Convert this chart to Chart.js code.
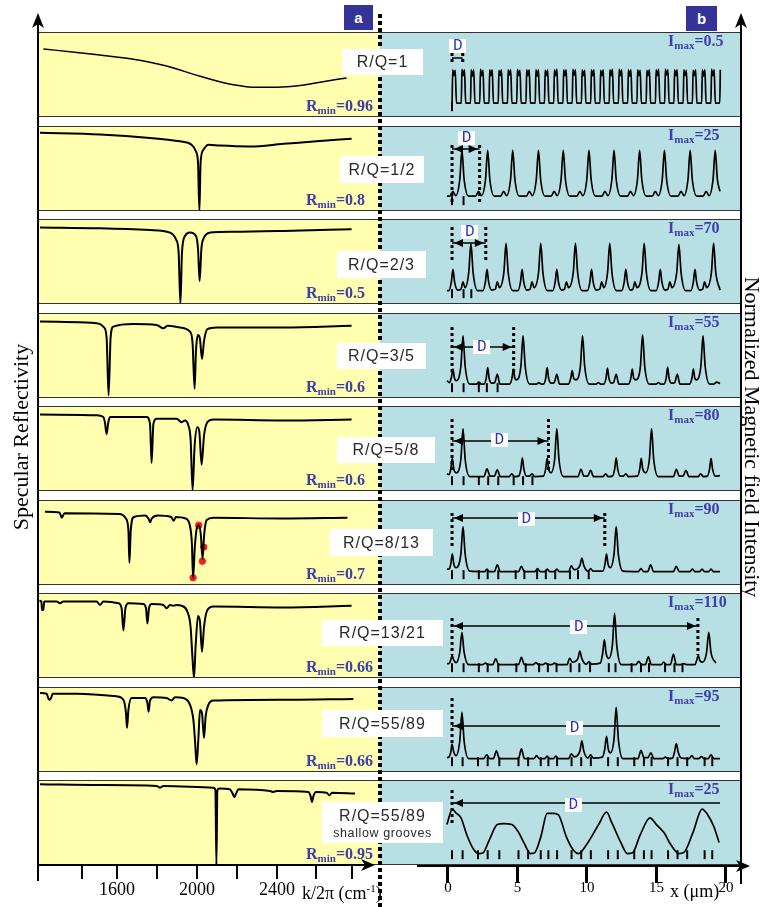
<!DOCTYPE html>
<html><head><meta charset="utf-8">
<script src="https://cdn.jsdelivr.net/npm/chart.js@4.4.1/dist/chart.umd.min.js"></script>
<style>
html,body{margin:0;padding:0;background:#fff;}
#wrap{position:relative;width:760px;height:907px;overflow:hidden;background:#fff;}
canvas{position:absolute;display:block;}
.lbl{position:absolute;white-space:nowrap;z-index:4;}
.rq{position:absolute;background:#fff;color:#2a2a2a;font-family:'Liberation Sans',Arial,sans-serif;font-size:16px;letter-spacing:1px;text-align:center;z-index:4;white-space:nowrap;}
.blue{color:#3d3dab;font-family:'Liberation Serif','Times New Roman',serif;font-weight:bold;font-size:16px;line-height:16px;}
.sub{font-size:11px;position:relative;top:3px;line-height:0;}
.dlab{position:absolute;background:#fff;color:#3535b0;font-family:'Liberation Mono',monospace;font-size:16px;line-height:14px;width:17px;height:14px;text-align:center;z-index:4;}
.tag{position:absolute;background:#333399;color:#fff;font:bold 15px/25px 'Liberation Sans',Arial,sans-serif;text-align:center;z-index:4;}
</style></head><body><div id="wrap"></div>
<script>
// ================= DATA =================
const rqLabels = ['R/Q=1','R/Q=1/2','R/Q=2/3','R/Q=3/5','R/Q=5/8','R/Q=8/13','R/Q=13/21','R/Q=55/89','R/Q=55/89'];
const rqNote = 'shallow grooves';
const rminValues = ['0.96','0.8','0.5','0.6','0.6','0.7','0.66','0.66','0.95'];
const imaxValues = ['0.5','25','70','55','80','90','110','95','25'];
const kTickValues = [1425,1600,1800,2000,2200,2400,2595,2775];
const kTickLabels = ['','1600','','2000','','2400','',''];
const xTickValues = [0,5,10,15,20];
const xTickLabels = ['0','5','10','15','20'];
const dLengths = [0.8,2.06,2.52,4.6,7.2,11.4,18.35,null,null];

// relative specular reflectivity (0 = Rmin, 1 = top of panel) vs k/2pi (cm-1)
const refl1 = [[1232,0.80],[1400,0.76],[1515,0.73],[1682,0.68],[1848,0.60],[2015,0.48],[2182,0.38],[2300,0.35],[2400,0.35],[2515,0.37],[2615,0.41],[2748,0.46]];
const refl2 = [[1215,0.92],[1515,0.9],[1765,0.86],[1915,0.82],[1973,0.78],[1995,0.7],[2005,0.57],[2012,0.0],[2018,0.57],[2032,0.72],[2057,0.78],[2115,0.77],[2265,0.76],[2432,0.79],[2598,0.82],[2773,0.85]];
const refl3 = [[1215,0.9],[1515,0.89],[1765,0.87],[1865,0.84],[1895,0.76],[1908,0.61],[1917,0.0],[1925,0.61],[1940,0.8],[1965,0.84],[1995,0.8],[2005,0.65],[2013,0.27],[2022,0.65],[2035,0.78],[2065,0.84],[2182,0.85],[2432,0.86],[2773,0.88]];
const refl4 = [[1215,0.9],[1498,0.88],[1535,0.83],[1548,0.71],[1558,0.03],[1568,0.71],[1582,0.84],[1682,0.87],[1798,0.86],[1832,0.82],[1853,0.85],[1915,0.83],[1965,0.78],[1978,0.64],[1988,0.11],[1995,0.56],[2005,0.74],[2015,0.69],[2025,0.46],[2035,0.67],[2052,0.81],[2098,0.83],[2432,0.83],[2773,0.85]];
const refl5 = [[1215,0.9],[1498,0.89],[1532,0.87],[1540,0.8],[1548,0.67],[1556,0.8],[1565,0.87],[1748,0.87],[1765,0.79],[1773,0.33],[1782,0.79],[1798,0.85],[1898,0.85],[1923,0.81],[1940,0.83],[1957,0.77],[1968,0.61],[1978,0.01],[1988,0.53],[2002,0.75],[2012,0.69],[2023,0.31],[2035,0.65],[2052,0.81],[2082,0.84],[2432,0.83],[2773,0.84]];
const refl6 = [[1215,0.91],[1290,0.9],[1302,0.83],[1315,0.89],[1598,0.88],[1632,0.82],[1645,0.66],[1650,0.23],[1657,0.66],[1673,0.84],[1732,0.86],[1748,0.82],[1757,0.77],[1765,0.82],[1798,0.86],[1865,0.84],[1878,0.79],[1890,0.84],[1940,0.82],[1962,0.72],[1972,0.48],[1978,0.03],[1987,0.44],[1998,0.7],[2008,0.73],[2018,0.6],[2027,0.28],[2035,0.6],[2048,0.8],[2082,0.83],[2432,0.82],[2773,0.83]];
const redMarkers6 = [[1978,0.03],[2007,0.73],[2033,0.44],[2026,0.25]];
const refl7 = [[1212,0.91],[1222,0.9],[1225,0.8],[1232,0.8],[1236,0.9],[1298,0.9],[1315,0.88],[1332,0.9],[1498,0.9],[1515,0.86],[1532,0.9],[1607,0.88],[1623,0.82],[1632,0.56],[1642,0.82],[1657,0.88],[1732,0.87],[1745,0.82],[1752,0.64],[1760,0.82],[1773,0.87],[1832,0.86],[1848,0.82],[1865,0.86],[1882,0.85],[1898,0.86],[1923,0.85],[1952,0.78],[1968,0.6],[1977,0.25],[1985,0.0],[1993,0.37],[2005,0.73],[2015,0.66],[2025,0.31],[2035,0.6],[2052,0.8],[2082,0.84],[2432,0.83],[2773,0.85]];
const refl8 = [[1215,0.93],[1248,0.92],[1258,0.86],[1265,0.85],[1272,0.88],[1278,0.92],[1398,0.92],[1598,0.89],[1632,0.85],[1645,0.69],[1650,0.52],[1657,0.73],[1673,0.87],[1740,0.87],[1752,0.81],[1758,0.71],[1765,0.84],[1782,0.88],[1848,0.87],[1873,0.84],[1890,0.88],[1932,0.87],[1965,0.79],[1982,0.61],[1990,0.37],[1998,0.09],[2007,0.4],[2015,0.73],[2025,0.69],[2035,0.4],[2043,0.65],[2057,0.79],[2082,0.84],[2432,0.85],[2782,0.86]];
const refl9 = [[1215,0.95],[1515,0.94],[1798,0.93],[1815,0.91],[1832,0.93],[2082,0.91],[2092,0.88],[2097,0.0],[2102,0.88],[2112,0.9],[2165,0.89],[2178,0.84],[2187,0.8],[2195,0.84],[2207,0.89],[2365,0.87],[2382,0.86],[2398,0.87],[2557,0.86],[2568,0.81],[2575,0.74],[2582,0.81],[2595,0.86],[2648,0.85],[2662,0.82],[2675,0.85],[2790,0.84]];

// normalized magnetic field intensity (I / Imax) vs x (um)
const field1 = [[0,-0.12],[0.05,0.72],[0.14,0.6],[0.24,0.71],[0.33,0.03],
[0.69,0.03],[0.74,0.73],[0.83,0.6],[0.93,0.72],[1.02,0.03],
[1.38,0.03],[1.43,0.72],[1.52,0.59],[1.62,0.72],[1.71,0.03],
[2.07,0.03],[2.12,0.73],[2.21,0.6],[2.31,0.71],[2.40,0.03],
[2.76,0.03],[2.81,0.72],[2.90,0.6],[3.00,0.72],[3.09,0.03],
[3.45,0.03],[3.50,0.71],[3.59,0.6],[3.69,0.72],[3.78,0.03],
[4.14,0.03],[4.19,0.72],[4.28,0.61],[4.38,0.72],[4.47,0.03],
[4.83,0.03],[4.88,0.73],[4.97,0.6],[5.07,0.71],[5.16,0.03],
[5.52,0.03],[5.57,0.72],[5.66,0.6],[5.76,0.72],[5.85,0.03],
[6.21,0.03],[6.26,0.72],[6.35,0.59],[6.45,0.72],[6.54,0.03],
[6.90,0.03],[6.95,0.71],[7.04,0.6],[7.14,0.72],[7.23,0.03],
[7.59,0.03],[7.64,0.72],[7.73,0.6],[7.83,0.73],[7.92,0.03],
[8.28,0.03],[8.33,0.72],[8.42,0.6],[8.52,0.72],[8.61,0.03],
[8.97,0.03],[9.02,0.73],[9.11,0.61],[9.21,0.72],[9.30,0.03],
[9.66,0.03],[9.71,0.72],[9.80,0.6],[9.90,0.71],[9.99,0.03],
[10.35,0.03],[10.40,0.72],[10.49,0.6],[10.59,0.72],[10.68,0.03],
[11.04,0.03],[11.09,0.71],[11.18,0.6],[11.28,0.72],[11.37,0.03],
[11.73,0.03],[11.78,0.72],[11.87,0.6],[11.97,0.73],[12.06,0.03],
[12.42,0.03],[12.47,0.73],[12.56,0.6],[12.66,0.72],[12.75,0.03],
[13.11,0.03],[13.16,0.72],[13.25,0.59],[13.35,0.72],[13.44,0.03],
[13.80,0.03],[13.85,0.72],[13.94,0.6],[14.04,0.71],[14.13,0.03],
[14.49,0.03],[14.54,0.71],[14.63,0.6],[14.73,0.72],[14.82,0.03],
[15.18,0.03],[15.23,0.72],[15.32,0.6],[15.42,0.73],[15.51,0.03],
[15.87,0.03],[15.92,0.73],[16.01,0.61],[16.11,0.72],[16.20,0.03],
[16.56,0.03],[16.61,0.72],[16.70,0.6],[16.80,0.72],[16.89,0.03],
[17.25,0.03],[17.30,0.72],[17.39,0.6],[17.49,0.71],[17.58,0.03],
[17.94,0.03],[17.99,0.71],[18.08,0.6],[18.18,0.72],[18.27,0.03],
[18.63,0.03],[18.68,0.72],[18.77,0.59],[18.87,0.72],[18.96,0.03],
[19.32,0.03],[19.37,0.73],[19.46,0.6],[19.56,0.72],[19.65,0.03],
[19.98,0.03],[20.02,0.72]];
const field2 = [[-0.38,0.05],[-0.16,0.05],[0.06,0.15],[0.28,0.06],[0.58,0.4],[0.74,1.0],[0.90,0.4],[1.24,0.05],
[1.76,0.05],[1.98,0.15],[2.20,0.06],[2.50,0.4],[2.66,1.0],[2.82,0.4],[3.16,0.05],
[3.63,0.05],[3.85,0.15],[4.07,0.06],[4.37,0.4],[4.53,1.0],[4.69,0.4],[5.03,0.05],
[5.55,0.05],[5.77,0.15],[5.99,0.06],[6.29,0.4],[6.45,1.0],[6.61,0.4],[6.95,0.05],
[7.40,0.05],[7.62,0.15],[7.84,0.06],[8.14,0.4],[8.30,1.0],[8.46,0.4],[8.80,0.05],
[9.32,0.05],[9.54,0.15],[9.76,0.06],[10.06,0.4],[10.22,1.0],[10.38,0.4],[10.72,0.05],
[11.19,0.05],[11.41,0.15],[11.63,0.06],[11.93,0.4],[12.09,1.0],[12.25,0.4],[12.59,0.05],
[13.10,0.05],[13.32,0.15],[13.54,0.06],[13.84,0.4],[14.00,1.0],[14.16,0.4],[14.50,0.05],
[14.95,0.05],[15.17,0.15],[15.39,0.06],[15.69,0.4],[15.85,1.0],[16.01,0.4],[16.35,0.05],
[16.87,0.05],[17.09,0.15],[17.31,0.06],[17.61,0.4],[17.77,1.0],[17.93,0.4],[18.27,0.05],
[18.74,0.05],[18.96,0.15],[19.18,0.06],[19.48,0.4],[19.64,1.0],[19.80,0.4],[20.0,0.15]];
const field3 = [[-0.38,0.02],[-0.23,0.02],[-0.05,0.2],[0.07,0.46],[0.19,0.2],[0.42,0.03],[0.67,0.05],[0.82,0.2],[0.97,0.08],[1.25,0.4],[1.41,1.0],[1.57,0.4],[1.91,0.02],
[2.31,0.02],[2.49,0.2],[2.61,0.46],[2.73,0.2],[2.96,0.03],[3.23,0.05],[3.38,0.2],[3.53,0.08],[3.87,0.4],[4.03,1.0],[4.19,0.4],[4.53,0.02],
[4.93,0.02],[5.11,0.2],[5.23,0.46],[5.35,0.2],[5.58,0.03],[5.82,0.05],[5.97,0.2],[6.12,0.08],[6.46,0.4],[6.62,1.0],[6.78,0.4],[7.12,0.02],
[7.52,0.02],[7.70,0.2],[7.82,0.46],[7.94,0.2],[8.17,0.03],[8.39,0.05],[8.54,0.2],[8.69,0.08],[9.05,0.4],[9.21,1.0],[9.37,0.4],[9.71,0.02],
[10.11,0.02],[10.29,0.2],[10.41,0.46],[10.53,0.2],[10.76,0.03],[11.02,0.05],[11.17,0.2],[11.32,0.08],[11.61,0.4],[11.77,1.0],[11.93,0.4],[12.27,0.02],
[12.67,0.02],[12.85,0.2],[12.97,0.46],[13.09,0.2],[13.32,0.03],[13.50,0.05],[13.65,0.2],[13.80,0.08],[14.18,0.4],[14.34,1.0],[14.50,0.4],[14.84,0.02],
[15.24,0.02],[15.42,0.2],[15.54,0.46],[15.66,0.2],[15.89,0.03],[16.11,0.05],[16.26,0.2],[16.41,0.08],[16.77,0.4],[16.93,0.98],[17.09,0.4],[17.43,0.02],
[17.83,0.02],[18.01,0.2],[18.13,0.46],[18.25,0.2],[18.48,0.03],[18.70,0.05],[18.85,0.2],[19.00,0.08],[19.36,0.4],[19.52,1.0],[19.68,0.4],[20.0,0.03]];
const field4 = [[-0.38,0.1],[-0.2,0.06],[-0.06,0.15],[0.07,0.34],[0.18,0.15],[0.32,0.1],[0.66,0.4],[0.82,1.03],[0.98,0.4],[1.32,0.03],[1.82,0.03],[2.0,0.07],[2.18,0.03],[2.38,0.03],[2.55,0.15],[2.66,0.37],[2.77,0.15],[2.96,0.05],[3.18,0.06],[3.38,0.23],[3.58,0.03],
[4.30,0.03],[4.47,0.15],[4.58,0.34],[4.69,0.15],[4.82,0.12],[5.14,0.4],[5.30,1.03],[5.46,0.4],[5.80,0.03],[6.30,0.03],[6.48,0.06],[6.66,0.03],[6.82,0.03],[6.99,0.15],[7.10,0.37],[7.21,0.15],[7.40,0.05],[7.62,0.06],[7.82,0.23],[8.02,0.03],
[8.69,0.03],[8.86,0.15],[8.97,0.31],[9.08,0.15],[9.26,0.12],[9.58,0.4],[9.74,1.03],[9.90,0.4],[10.24,0.03],[10.74,0.03],[10.92,0.06],[11.10,0.03],[11.32,0.03],[11.49,0.15],[11.60,0.36],[11.71,0.15],[11.90,0.05],[12.05,0.06],[12.25,0.23],[12.45,0.03],
[13.17,0.03],[13.34,0.15],[13.45,0.34],[13.56,0.15],[13.74,0.12],[14.06,0.4],[14.22,1.05],[14.38,0.4],[14.72,0.03],[15.22,0.03],[15.40,0.06],[15.58,0.03],[15.81,0.03],[15.98,0.15],[16.09,0.38],[16.20,0.15],[16.39,0.05],[16.61,0.06],[16.81,0.23],[17.01,0.03],
[17.73,0.03],[17.90,0.15],[18.01,0.34],[18.12,0.15],[18.25,0.12],[18.57,0.4],[18.73,1.03],[18.89,0.4],[19.23,0.03],[19.52,0.03],[19.75,0.07],[20.0,0.04]];
const field5 = [[-0.38,0.1],[-0.22,0.08],[-0.09,0.2],[0.02,0.42],[0.13,0.2],[0.3,0.12],[0.66,0.4],[0.82,1.03],[0.98,0.4],[1.32,0.04],[2.38,0.04],[2.61,0.2],[2.84,0.05],[3.16,0.05],[3.38,0.18],[3.6,0.04],[4.26,0.04],[4.46,0.1],[4.66,0.04],[4.97,0.05],[5.14,0.2],[5.25,0.43],[5.36,0.2],[5.55,0.05],[5.77,0.05],[5.97,0.1],[6.17,0.04],[6.82,0.05],[6.99,0.2],[7.10,0.42],[7.21,0.2],[7.38,0.12],[7.66,0.4],[7.82,1.03],[7.98,0.4],[8.32,0.04],
[9.40,0.04],[9.62,0.19],[9.84,0.05],[10.12,0.05],[10.34,0.17],[10.56,0.04],[11.26,0.04],[11.46,0.1],[11.66,0.04],[11.97,0.05],[12.14,0.2],[12.25,0.43],[12.36,0.2],[12.55,0.05],[12.77,0.05],[12.97,0.1],[13.17,0.04],[13.84,0.05],[14.01,0.2],[14.12,0.42],[14.23,0.2],[14.45,0.12],[14.73,0.4],[14.89,1.03],[15.05,0.4],[15.39,0.04],
[16.52,0.04],[16.74,0.19],[16.96,0.05],[17.24,0.05],[17.46,0.17],[17.68,0.04],[18.36,0.04],[18.56,0.1],[18.76,0.04],[19.05,0.05],[19.22,0.2],[19.33,0.42],[19.44,0.2],[19.65,0.05],[20.0,0.06]];
const field6 = [[-0.38,0.07],[-0.22,0.07],[-0.09,0.18],[0.02,0.39],[0.13,0.18],[0.3,0.1],[0.66,0.38],[0.82,0.95],[0.98,0.38],[1.32,0.03],[2.41,0.02],[2.61,0.07],[2.81,0.02],[3.16,0.02],[3.38,0.16],[3.6,0.02],[4.96,0.02],[5.18,0.13],[5.4,0.02],[6.18,0.02],[6.38,0.08],[6.58,0.02],[6.9,0.02],[7.1,0.07],[7.3,0.02],[7.62,0.02],[7.82,0.07],[8.02,0.02],[8.7,0.02],[8.9,0.14],[9.1,0.06],[9.55,0.15],[9.69,0.3],[9.83,0.15],[10.14,0.03],[10.34,0.08],[10.54,0.03],[11.25,0.03],[11.42,0.18],[11.53,0.39],[11.64,0.18],[11.81,0.1],[12.09,0.38],[12.25,0.95],[12.41,0.38],[12.75,0.03],
[13.9,0.02],[14.1,0.08],[14.3,0.02],[14.6,0.02],[14.82,0.16],[15.04,0.02],[16.52,0.02],[16.74,0.13],[16.96,0.02],[17.74,0.02],[17.94,0.07],[18.14,0.02],[18.46,0.02],[18.66,0.07],[18.86,0.02],[19.13,0.02],[19.33,0.07],[19.53,0.02],[20.0,0.02]];
const field7 = [[-0.38,0.04],[-0.2,0.05],[-0.09,0.12],[0.0,0.21],[0.12,0.12],[0.3,0.06],[0.58,0.28],[0.74,0.69],[0.9,0.28],[1.24,0.02],[2.29,0.02],[2.49,0.05],[2.69,0.02],[3.04,0.02],[3.26,0.14],[3.48,0.02],[4.96,0.02],[5.18,0.17],[5.4,0.02],[6.06,0.02],[6.26,0.06],[6.46,0.02],[6.78,0.02],[6.98,0.05],[7.18,0.02],[7.45,0.02],[7.65,0.05],[7.85,0.02],[8.58,0.02],[8.78,0.15],[8.98,0.07],[9.4,0.15],[9.54,0.3],[9.68,0.15],[10.02,0.03],[10.22,0.08],[10.42,0.03],[11.06,0.05],[11.24,0.25],[11.37,0.54],[11.5,0.25],[11.7,0.15],[11.97,0.43],[12.13,1.08],[12.29,0.43],[12.63,0.02],
[13.73,0.02],[13.93,0.09],[14.13,0.02],[14.43,0.02],[14.65,0.18],[14.87,0.02],[15.6,0.02],[15.8,0.07],[16.0,0.02],[16.3,0.02],[16.52,0.23],[16.74,0.02],[17.09,0.02],[17.29,0.04],[17.49,0.02],[18.13,0.02],[18.25,0.1],[18.37,0.21],[18.5,0.1],[18.7,0.07],[19.0,0.28],[19.16,0.69],[19.32,0.28],[19.69,0.05]];
const field8 = [[-0.38,0.04],[-0.2,0.06],[-0.09,0.16],[0.0,0.32],[0.12,0.16],[0.3,0.08],[0.58,0.39],[0.74,0.98],[0.9,0.39],[1.24,0.02],[2.37,0.02],[2.59,0.1],[2.81,0.02],[3.09,0.02],[3.31,0.18],[3.53,0.02],[4.96,0.02],[5.18,0.22],[5.4,0.02],[6.11,0.02],[6.31,0.08],[6.51,0.02],[6.9,0.02],[7.1,0.07],[7.3,0.02],[7.55,0.02],[7.75,0.07],[7.95,0.02],[8.7,0.02],[8.9,0.12],[9.1,0.06],[9.55,0.18],[9.69,0.39],[9.83,0.18],[10.14,0.03],[10.34,0.1],[10.54,0.03],[11.22,0.05],[11.4,0.22],[11.53,0.48],[11.66,0.22],[11.83,0.14],[12.09,0.43],[12.25,1.08],[12.41,0.43],[12.75,0.02],
[13.88,0.02],[14.1,0.19],[14.32,0.04],[14.62,0.04],[14.84,0.14],[15.06,0.02],[15.72,0.02],[15.92,0.05],[16.12,0.02],[16.45,0.03],[16.6,0.15],[16.74,0.33],[16.88,0.15],[17.1,0.03],[17.69,0.02],[17.89,0.08],[18.09,0.02],[18.41,0.02],[18.61,0.06],[18.81,0.02],[19.13,0.02],[19.33,0.1],[19.53,0.02],[20.0,0.02]];
const field9 = [[-0.38,0.58],[0.02,0.9],[0.3,0.82],[0.67,0.72],[1.1,0.37],[1.58,0.08],[2.01,-0.02],[2.3,-0.01],[2.78,0.26],[3.38,0.58],[3.86,0.6],[4.46,0.58],[4.94,0.43],[5.37,0.2],[5.85,-0.02],[6.14,-0.01],[6.62,0.32],[7.1,0.81],[7.58,0.81],[7.94,0.78],[8.54,0.32],[9.06,0.05],[9.45,-0.02],[9.98,0.14],[10.94,0.58],[11.53,0.84],[11.89,0.64],[12.61,0.2],[13.09,-0.02],[13.45,-0.01],[14.05,0.37],[14.77,0.72],[15.25,0.58],[15.85,0.4],[16.33,0.16],[16.93,-0.02],[17.29,0.0],[18.0,0.43],[18.66,0.9],[19.09,0.78],[19.52,0.55],[19.93,0.21]];

// groove positions (um)
const grooves1 = [0];
const grooves2 = [0,0.86];
const grooves3 = [0,0.86,1.44];
const grooves4 = [0,0.86,2.0,2.6,3.4];
const grooves5 = [0,0.86,2.0,2.7,3.45,4.6,5.3,6.0];
const grooves6 = [0,0.86,2.0,2.66,3.45,4.75,5.4,6.35,7.0,7.7,8.8,9.4,10.2];
const grooves7 = [0,0.86,2.0,2.66,3.45,4.8,5.5,6.5,7.15,7.8,8.85,9.5,10.3,11.7,12.2,13.4,14.1,14.7,15.9,16.6,17.2];
const grooves8 = [0,0.79,1.94,2.66,3.53,4.96,5.68,6.62,7.19,7.84,8.92,9.64,10.36,11.65,12.37,13.6,14.32,14.89,16.12,16.83,17.55,18.85,19.42];
const grooves9 = [0,0.79,1.94,2.66,3.53,4.96,5.68,6.62,7.19,7.84,8.92,9.64,10.36,11.65,12.37,13.6,14.32,14.89,16.12,16.83,17.55,18.85,19.42];

const reflSeries = [refl1,refl2,refl3,refl4,refl5,refl6,refl7,refl8,refl9];
const fieldSeries = [field1,field2,field3,field4,field5,field6,field7,field8,field9];
const grooveSeries = [grooves1,grooves2,grooves3,grooves4,grooves5,grooves6,grooves7,grooves8,grooves9];

// ================= LAYOUT =================
Chart.defaults.font.family = "'Liberation Serif','Times New Roman',serif";
Chart.defaults.color = '#000';
const wrap = document.getElementById('wrap');
const ROW_TOPS = [32,126,219,313,406,500,593,687,780];
const ROW_H = 85;
const LEFT = {x:38, w:342, min:1205, max:2915, bg:'#FFFFAF'};
const RIGHT = {x:380, w:361, min:-4.89, max:21.08, bg:'#B8E0E4'};
const BASE_PX = 7, UNIT_PX = 57;
const fieldMin = -BASE_PX/UNIT_PX, fieldMax = (ROW_H-BASE_PX)/UNIT_PX;
const grooveY = fieldMin + 4.5/UNIT_PX;
const rqBoxes = [[342,49,81,26],[340,156,84,27],[337,251,89,27],[337,343,89,26],[337,437,98,26],[330,529,103,27],[322,620,121,26],[322,710,121,27],[322,802,121,41]];
const dMarkLayout = [
 {dTop:21,dBot:33,ay:26,heads:false,box:7,center:0.43},
 {dTop:19,dBot:77,ay:23,heads:true,box:5,center:1.08},
 {dTop:8,dBot:44,ay:24,heads:true,box:6,center:1.33},
 {dTop:14,dBot:59,ay:34,heads:true,box:27,center:2.23},
 {dTop:13,dBot:64,ay:35,heads:true,box:27,center:3.53},
 {dTop:13,dBot:48,ay:18,heads:true,box:12,center:5.54},
 {dTop:25,dBot:62,ay:33,heads:true,box:27,center:9.46},
 {dTop:11,dBot:56,ay:39,heads:true,box:34,center:9.14},
 {dTop:10,dBot:45,ay:23,heads:true,box:18,center:9.06}
];

function addCanvas(left, top, w, h, bg) {
  const c = document.createElement('canvas');
  c.width = w; c.height = h;
  c.style.left = left+'px'; c.style.top = top+'px';
  c.style.width = w+'px'; c.style.height = h+'px';
  if (bg) c.style.background = bg;
  c.style.zIndex = 1;
  wrap.appendChild(c);
  return c;
}
function addDiv(cls, css, html) {
  const d = document.createElement('div');
  if (cls) d.className = cls;
  d.style.cssText = css;
  d.innerHTML = html;
  wrap.appendChild(d);
  return d;
}
const baseOpts = () => ({
  responsive:false, animation:false, devicePixelRatio:1, events:[],
  layout:{padding:0},
  plugins:{legend:{display:false}, tooltip:{enabled:false}}
});

function head(ctx, x, y, dir) {
  ctx.beginPath();
  ctx.moveTo(x, y);
  ctx.lineTo(x - dir*9, y-4);
  ctx.lineTo(x - dir*9, y+4);
  ctx.closePath(); ctx.fill();
}
const dPlugin = {
  id:'dmark',
  afterDatasetsDraw(chart, args, opts) {
    const m = opts.mark; if (!m) return;
    const ctx = chart.ctx, xs = chart.scales.x;
    const xa = xs.getPixelForValue(0);
    const xb = m.len != null ? xs.getPixelForValue(m.len) : null;
    const xEnd = xb != null ? xb : xs.getPixelForValue(xTickValues[xTickValues.length-1]);
    ctx.save();
    ctx.strokeStyle = '#000'; ctx.fillStyle = '#000';
    ctx.setLineDash([3,3]); ctx.lineWidth = 3;
    [xa, xb].forEach(x => {
      if (x == null) return;
      ctx.beginPath(); ctx.moveTo(x, m.dTop); ctx.lineTo(x, m.dBot); ctx.stroke();
    });
    ctx.setLineDash([]); ctx.lineWidth = 1.5;
    ctx.beginPath(); ctx.moveTo(xa, m.ay); ctx.lineTo(xEnd, m.ay); ctx.stroke();
    if (m.heads) {
      head(ctx, xa+2, m.ay, -1);
      if (xb != null) head(ctx, xb-2, m.ay, 1);
    }
    ctx.restore();
  }
};

for (let i = 0; i < 9; i++) {
  const top = ROW_TOPS[i];
  // left: reflectivity
  const cl = addCanvas(LEFT.x, top, LEFT.w, ROW_H, LEFT.bg);
  const lds = [{data: reflSeries[i], showLine:true, borderColor:'#000', borderWidth: i === 0 ? 1.5 : 2, pointRadius:0,
                cubicInterpolationMode:'monotone', clip:false}];
  if (i === 5) lds.push({data: redMarkers6, showLine:false, pointRadius:3.2,
                pointBackgroundColor:'#ff1a1a', pointBorderColor:'#ff1a1a', clip:false});
  const lo = baseOpts();
  lo.scales = {x:{type:'linear', min:LEFT.min, max:LEFT.max, display:false},
               y:{type:'linear', min:0, max:1, display:false}};
  new Chart(cl, {type:'scatter', data:{datasets:lds}, options:lo});

  // right: field intensity
  const cr = addCanvas(RIGHT.x, top, RIGHT.w, ROW_H, RIGHT.bg);
  const m = Object.assign({len: dLengths[i]}, dMarkLayout[i]);
  const ro = baseOpts();
  ro.plugins.dmark = {mark: m};
  ro.scales = {x:{type:'linear', min:RIGHT.min, max:RIGHT.max, display:false},
               y:{type:'linear', min:fieldMin, max:fieldMax, display:false}};
  const rch = new Chart(cr, {type:'scatter', plugins:[dPlugin], data:{datasets:[
    {data: fieldSeries[i], showLine:true, borderColor:'#000', borderWidth:1.7, pointRadius:0,
     cubicInterpolationMode:'monotone', clip:false},
    {data: grooveSeries[i].map(x => [x, grooveY]), showLine:false, pointStyle:'line', pointRotation:90,
     pointRadius:4.5, pointBorderWidth:2, pointBorderColor:'#000', clip:false}
  ]}, options:ro});

  // D label
  const px = rch.scales.x.getPixelForValue(dMarkLayout[i].center);
  addDiv('dlab', `left:${(RIGHT.x + px - 8.5).toFixed(1)}px;top:${top + dMarkLayout[i].box}px;`, 'D');

  // R/Q box
  const b = rqBoxes[i];
  if (i < 8) {
    addDiv('rq', `left:${b[0]}px;top:${b[1]}px;width:${b[2]}px;height:${b[3]}px;line-height:${b[3]}px;`, rqLabels[i]);
  } else {
    addDiv('rq', `left:${b[0]}px;top:${b[1]}px;width:${b[2]}px;height:${b[3]}px;padding-top:4px;box-sizing:border-box;`,
      `<div style="line-height:20px">${rqLabels[i]}</div><div style="line-height:14px;font-size:12.5px;letter-spacing:0.6px">${rqNote}</div>`);
  }
  // Rmin & Imax
  addDiv('lbl blue', `left:306px;top:${(top + 79 - 13.4).toFixed(1)}px;`, `R<span class="sub">min</span>=${rminValues[i]}`);
  addDiv('lbl blue', `left:668px;top:${(top + 1).toFixed(1)}px;`, `I<span class="sub">max</span>=${imaxValues[i]}`);
}

// bottom axes (ticks + labels through Chart.js scales)
function axisChart(x, top, w, h, min, max, ticks, labels, fontSize, tickLen, tickW, pad) {
  const c = addCanvas(x, top, w, h, null);
  const o = baseOpts();
  o.scales = {
    x:{type:'linear', position:'bottom', min:min, max:max,
       afterBuildTicks:(s) => { s.ticks = ticks.map(v => ({value:v})); },
       afterFit:(s) => { s.height = h - 10; },
       grid:{display:true, drawOnChartArea:false, drawTicks:true, tickLength:tickLen, color:'#000', lineWidth:tickW},
       border:{display:false},
       ticks:{autoSkip:false, maxRotation:0, minRotation:0, padding:pad, color:'#000',
              font:{size:fontSize, lineHeight:1}, callback:(v, idx) => labels[idx]}},
    y:{display:false, min:0, max:1}
  };
  new Chart(c, {type:'scatter', data:{datasets:[{data:[]}]}, options:o});
}
axisChart(LEFT.x, 855, LEFT.w, 52, LEFT.min, LEFT.max, kTickValues, kTickLabels, 18, 14, 2, 2);
axisChart(RIGHT.x, 856, RIGHT.w, 51, RIGHT.min, RIGHT.max, xTickValues, xTickLabels, 15, 17, 3, -2);

// overlay lines (frame, arrows, row borders, dotted separator)
let svg = '<svg xmlns="http://www.w3.org/2000/svg" width="760" height="907" style="position:absolute;left:0;top:0;z-index:2">';
ROW_TOPS.forEach(t => {
  svg += `<line x1="38" y1="${t+0.5}" x2="741" y2="${t+0.5}" stroke="#333" stroke-width="1.2"/>`;
  svg += `<line x1="38" y1="${t+ROW_H-0.5}" x2="741" y2="${t+ROW_H-0.5}" stroke="#333" stroke-width="1.2"/>`;
});
svg += '<line x1="38" y1="22" x2="38" y2="881" stroke="#000" stroke-width="2"/>';
svg += '<polygon points="38,13 32,28 38,24 44,28" fill="#000"/>';
svg += '<line x1="741" y1="22" x2="741" y2="884" stroke="#000" stroke-width="2"/>';
svg += '<polygon points="741,13 735,28 741,24 747,28" fill="#000"/>';
svg += '<line x1="38" y1="865" x2="366" y2="865" stroke="#000" stroke-width="2"/>';
svg += '<polygon points="375,865 361,859 365,865 361,871" fill="#000"/>';
svg += '<line x1="417" y1="866" x2="742" y2="866" stroke="#000" stroke-width="2"/>';
svg += '<polygon points="750,866 736,860 740,866 736,872" fill="#000"/>';
svg += '<line x1="380" y1="14" x2="380" y2="907" stroke="#000" stroke-width="4" stroke-dasharray="4 3"/>';
svg += '</svg>';
wrap.insertAdjacentHTML('beforeend', svg);

// titles and tags
addDiv('tag', 'left:344px;top:5px;width:29px;height:25px;', 'a');
addDiv('tag', 'left:686px;top:6px;width:31px;height:25px;', 'b');
addDiv('lbl', "left:-129px;top:426px;width:300px;text-align:center;font:22px/22px 'Liberation Serif','Times New Roman',serif;color:#000;transform:rotate(-90deg);transform-origin:150px 11px;", 'Specular Reflectivity');
addDiv('lbl', "left:551.5px;top:426px;width:400px;text-align:center;font:22px/22px 'Liberation Serif','Times New Roman',serif;color:#000;transform:rotate(90deg);transform-origin:200px 11px;", 'Normalized Magnetic field Intensity');
addDiv('lbl', "left:302px;top:884px;font:18px/18px 'Liberation Serif','Times New Roman',serif;color:#000;z-index:1;", 'k/2π (cm<span style="font-size:11px;position:relative;top:-7px;line-height:0">-1</span>)');
addDiv('lbl', "left:670px;top:882px;font:18px/18px 'Liberation Serif','Times New Roman',serif;color:#000;", 'x (μm)');
</script></body></html>
